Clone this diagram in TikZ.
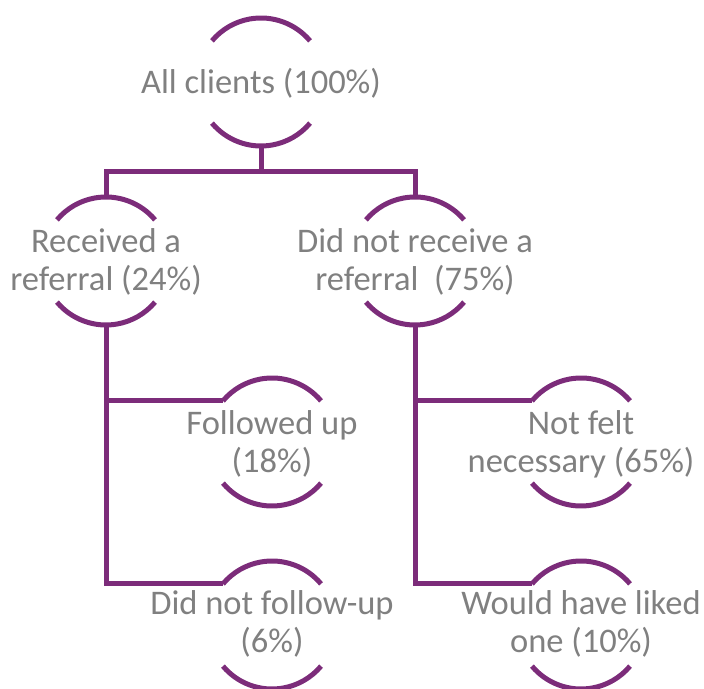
\documentclass[tikz,border=0pt]{standalone}
\usepackage{fontspec}
\setmainfont{Carlito}
\definecolor{linepurple}{RGB}{124,44,122}
\definecolor{txtgray}{RGB}{128,128,128}
\begin{document}
\begin{tikzpicture}[x=1pt,y=1pt,
  lbl/.style={align=center,inner sep=0pt,text=txtgray,font=\fontsize{34.5}{38}\selectfont},
  conn/.style={draw=linepurple,line width=5pt},
  arcs/.style={draw=linepurple,line width=5pt}]
\useasboundingbox (0,0) rectangle (704,688);
\node[lbl] (all) at (261,605) {All clients (100\%)};
\node[lbl] (rec) at (106,426) {Received a\\referral (24\%)};
\node[lbl] (dnr) at (415,426) {Did not receive a\\referral\ \ (75\%)};
\node[lbl] (fol) at (272,244) {Followed up\\(18\%)};
\node[lbl] (dnf) at (272,64) {Did not follow-up\\(6\%)};
\node[lbl] (nfn) at (581,244) {Not felt\\necessary (65\%)};
\node[lbl] (wlo) at (581,64) {Would have liked\\one (10\%)};
\foreach \n/\cy in {all/606,rec/427,dnr/427,fol/246,dnf/63,nfn/246,wlo/63}{
  \coordinate (\n-c) at (\n.center |- 0,\cy);
  \draw[arcs] ([shift={(40:64)}]\n-c) arc[start angle=40,end angle=140,radius=64];
  \draw[arcs] ([shift={(220:64)}]\n-c) arc[start angle=220,end angle=320,radius=64];
  \coordinate (\n-top) at ([yshift=64]\n-c);
  \coordinate (\n-bot) at ([yshift=-64]\n-c);
  \coordinate (\n-tl) at ([shift={(140:64)}]\n-c);
}
\coordinate (bar) at ([yshift=-26]all-bot);
\draw[conn] (all-bot) -- (bar);
\draw[conn] (rec-top) |- (bar) -| (dnr-top);
\draw[conn] (rec-bot) |- (dnf-tl);
\draw[conn] (rec-bot |- fol-tl) -- (fol-tl);
\draw[conn] (dnr-bot) |- (wlo-tl);
\draw[conn] (dnr-bot |- nfn-tl) -- (nfn-tl);
\end{tikzpicture}
\end{document}
